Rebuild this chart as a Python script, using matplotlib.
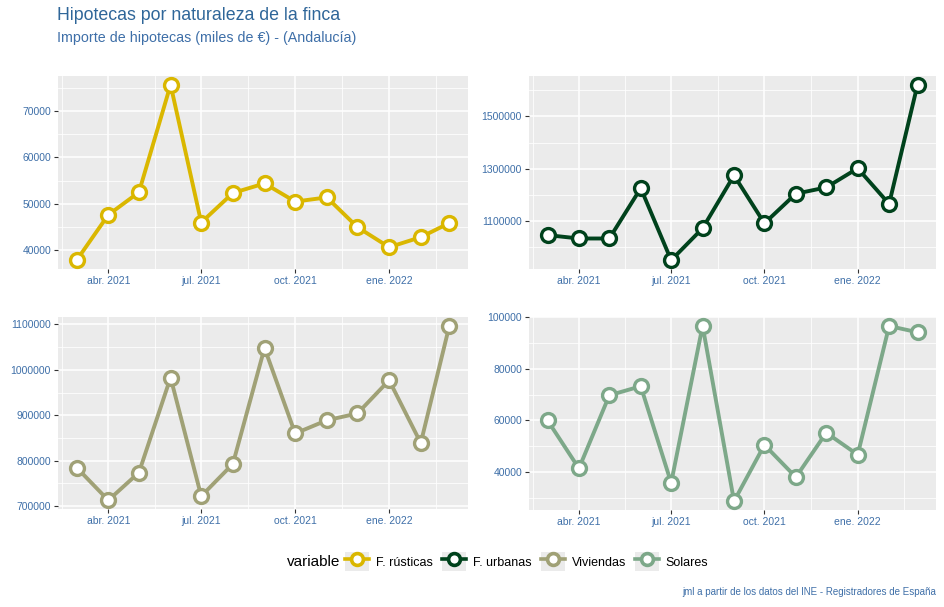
import matplotlib
matplotlib.use("Agg")
import matplotlib.pyplot as plt
import matplotlib.dates as mdates
from matplotlib.lines import Line2D
from matplotlib.patches import Rectangle
from matplotlib.legend_handler import HandlerLine2D
import pandas as pd
import numpy as np

plt.rcParams['font.family'] = ['Liberation Sans', 'DejaVu Sans']

# ---- data ----
months = pd.date_range("2021-03-01", "2022-03-01", freq="MS")
rusticas = [37900, 47650, 52500, 75600, 46000, 52350, 54400, 50500, 51400, 45000, 40700, 42850, 45900]
urbanas = [1047000, 1034000, 1034000, 1226000, 951000, 1073000, 1275000, 1092000, 1205000, 1229000, 1302000, 1166000, 1621000]
viviendas = [785000, 713000, 774000, 983000, 722000, 793000, 1048000, 860000, 889000, 904000, 977000, 839000, 1097000]
solares = [60000, 41400, 69700, 73200, 35800, 96600, 28700, 50500, 38000, 55200, 46700, 96500, 94100]
series_names = ["F. rústicas", "F. urbanas", "Viviendas", "Solares"]
series_values = [rusticas, urbanas, viviendas, solares]
colors = ["#DAB700", "#00421C", "#A0A176", "#7DA889"]
x_tick_dates = pd.to_datetime(["2021-04-01", "2021-07-01", "2021-10-01", "2022-01-01"])
x_tick_labels = ["abr. 2021", "jul. 2021", "oct. 2021", "ene. 2022"]
y_ticks = [
    [40000, 50000, 60000, 70000],
    [1100000, 1300000, 1500000],
    [700000, 800000, 900000, 1000000, 1100000],
    [40000, 60000, 80000, 100000],
]

W, H = 944, 607
fig = plt.figure(figsize=(W / 100, H / 100), dpi=100)

def px_axes(x0, y0, x1, y1):
    return fig.add_axes([x0 / W, 1 - y1 / H, (x1 - x0) / W, (y1 - y0) / H])

boxes = [(58, 76, 468, 269), (529, 76, 936, 269), (58, 317, 468, 509), (529, 317, 936, 510)]
label_col = "#3E6FA8"

xnum = mdates.date2num(months)
tnum = mdates.date2num(x_tick_dates)
step = tnum[1] - tnum[0]
x_minor = np.concatenate([[tnum[0] - step / 2], (tnum[:-1] + tnum[1:]) / 2, [tnum[-1] + step / 2]])

for i, (box, vals, col, yt) in enumerate(zip(boxes, series_values, colors, y_ticks)):
    ax = px_axes(*box)
    ax.set_facecolor("#EBEBEB")
    ax.plot(xnum, vals, color=col, lw=2.8, marker="o", ms=10, mfc="white",
            mec=col, mew=2.4, zorder=3, solid_joinstyle="round")
    ax.margins(x=0.05, y=0.05)
    ax.set_xticks(tnum)
    ax.set_xticklabels(x_tick_labels)
    ax.set_xticks(x_minor, minor=True)
    ax.set_yticks(yt)
    ax.set_yticklabels([str(v) for v in yt])
    lo, hi = ax.get_ylim()
    ys = yt[1] - yt[0]
    ym = np.arange(yt[0] - ys / 2, hi + ys, ys)
    ym = ym[(ym > lo) & (ym < hi)]
    ax.set_yticks(ym, minor=True)
    ax.grid(which="major", color="white", lw=1.1)
    ax.grid(which="minor", color="white", lw=0.55)
    ax.set_axisbelow(True)
    for s in ax.spines.values():
        s.set_visible(False)
    ax.tick_params(which="major", length=3, width=0.8, color="#333333",
                   labelsize=7.5, labelcolor=label_col, pad=2)
    ax.tick_params(which="minor", length=0)

fig.text(57 / W, 1 - 15 / H, "Hipotecas por naturaleza de la finca", fontsize=12.8,
         color="#2F6699", va="center", ha="left")
fig.text(57 / W, 1 - 38 / H, "Importe de hipotecas (miles de €) - (Andalucía)", fontsize=10.3,
         color="#3E6FA8", va="center", ha="left")
fig.text(936 / W, 1 - 592 / H, "jml a partir de los datos del INE - Registradores de España",
         fontsize=7, color="#3E6FA8", va="center", ha="right")


class KeyHandler(HandlerLine2D):
    def create_artists(self, legend, orig_handle, xdescent, ydescent, width, height, fontsize, trans):
        rect = Rectangle((-xdescent, -ydescent), width, height,
                         facecolor="#EBEBEB", edgecolor="none", transform=trans)
        arts = super().create_artists(legend, orig_handle, xdescent, ydescent, width, height, fontsize, trans)
        return [rect] + arts


handles = [Line2D([], [], color=c, lw=2.6, marker="o", ms=8.5, mfc="white", mec=c, mew=2.6)
           for c in colors]
fig.text(287 / W, 1 - 562 / H, "variable", fontsize=11, color="black", va="center", ha="left")
leg = fig.legend(handles, series_names, loc="center left", bbox_to_anchor=(345 / W, 1 - 561.5 / H),
                 ncol=4, frameon=False, fontsize=9, handlelength=1.92, handleheight=1.84,
                 handletextpad=0.56, columnspacing=0.72, borderaxespad=0, borderpad=0,
                 handler_map={Line2D: KeyHandler(numpoints=1)})
for t in leg.get_texts():
    t.set_color("black")

fig.savefig("out.png", dpi=100)
